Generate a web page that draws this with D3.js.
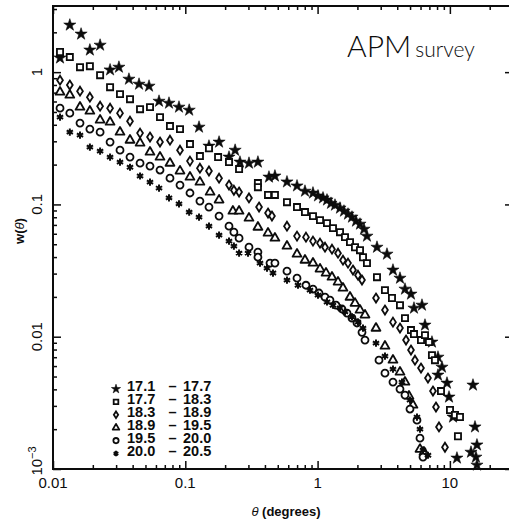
<!DOCTYPE html>
<html><head><meta charset="utf-8">
<script src="https://cdn.jsdelivr.net/npm/d3@7"></script>
<style>body{margin:0;background:#fff}svg{display:block}</style>
</head><body>
<script>
// ---- data ----
const xMajor = [0.01, 0.1, 1, 10];
const xMajorLabels = ["0.01", "0.1", "1", "10"];
const yMajor = [1, 0.1, 0.01, 0.001];
const yMajorLabels = ["1", "0.1", "0.01", "10^-3"];
const rangeLabels = [["17.1","17.7"],["17.7","18.3"],["18.3","18.9"],["18.9","19.5"],["19.5","20.0"],["20.0","20.5"]];
const symbolNames = ["star","square","diamond","triangle","circle","asterisk"];

const s171 = [[0.0113,1.28],[0.0134,2.27],[0.0163,1.94],[0.0190,1.47],[0.0227,1.60],[0.0270,1.04],[0.0315,1.09],[0.0375,0.885],[0.0447,0.811],[0.0532,0.784],[0.0633,0.603],[0.0753,0.583],[0.0896,0.544],[0.107,0.516],[0.127,0.384],[0.151,0.276],[0.180,0.296],[0.214,0.228],[0.238,0.257],[0.259,0.209],[0.303,0.205],[0.354,0.209],[0.429,0.161],[0.476,0.164],[0.587,0.148],[0.699,0.138],[0.803,0.126],[0.923,0.122],[1.007,0.116],[1.099,0.112],[1.178,0.108],[1.263,0.102],[1.354,0.0988],[1.477,0.0938],[1.583,0.0890],[1.698,0.0845],[1.820,0.0802],[1.951,0.0748],[2.092,0.0710],[2.243,0.0650],[2.362,0.0576],[2.812,0.0475],[3.346,0.0421],[3.714,0.0319],[4.196,0.0277],[4.578,0.0229],[5.081,0.0210],[5.353,0.01645],[6.153,0.01732],[6.484,0.01224],[7.321,0.00911],[8.130,0.00701],[8.716,0.00589],[8.130,0.00513],[9.51,0.00446],[9.85,0.00350],[10.56,0.00247],[11.31,0.00121],[14.95,0.00431],[15.48,0.00208],[16.02,0.00152],[14.44,0.00134],[15.74,0.00123],[16.02,0.00107]];
const s177 = [[0.0113,1.42],[0.0134,1.30],[0.0160,1.09],[0.0190,1.11],[0.0227,0.949],[0.0270,0.770],[0.0321,0.682],[0.0382,0.625],[0.0455,0.525],[0.0541,0.544],[0.0644,0.457],[0.0766,0.391],[0.0912,0.371],[0.1085,0.286],[0.129,0.232],[0.151,0.266],[0.177,0.228],[0.214,0.209],[0.255,0.185],[0.354,0.145],[0.354,0.135],[0.422,0.118],[0.476,0.118],[0.587,0.104],[0.699,0.0955],[0.803,0.0875],[0.923,0.0816],[1.043,0.0761],[1.178,0.0722],[1.307,0.0662],[1.477,0.0617],[1.611,0.0566],[1.758,0.0519],[1.918,0.0475],[2.092,0.0451],[2.204,0.0399],[2.362,0.0360],[2.812,0.0282],[3.231,0.0225],[3.650,0.0196],[4.196,0.01732],[4.578,0.01382],[5.081,0.01122],[5.353,0.01047],[6.048,0.00943],[6.484,0.01028],[6.949,0.00911],[7.321,0.00726],[7.714,0.00665],[8.566,0.00388],[10.02,0.00279],[10.93,0.00256],[11.92,0.00247],[11.51,0.00177]];
const s183 = [[0.0113,0.870],[0.0134,0.798],[0.0160,0.718],[0.0190,0.647],[0.0227,0.553],[0.0270,0.534],[0.0321,0.490],[0.0382,0.426],[0.0455,0.346],[0.0541,0.323],[0.0644,0.296],[0.0766,0.306],[0.0912,0.257],[0.1085,0.2125],[0.129,0.188],[0.151,0.179],[0.180,0.158],[0.214,0.140],[0.233,0.128],[0.255,0.124],[0.303,0.112],[0.361,0.0955],[0.422,0.0860],[0.452,0.0816],[0.587,0.0685],[0.699,0.0576],[0.817,0.0566],[0.923,0.0528],[1.043,0.0510],[1.138,0.0475],[1.285,0.0459],[1.427,0.0428],[1.556,0.0379],[1.698,0.0360],[1.852,0.0319],[2.020,0.0292],[2.166,0.0268],[2.764,0.0196],[3.231,0.01589],[3.714,0.01289],[4.196,0.01162],[4.66,0.00943],[5.081,0.00792],[5.447,0.00665],[6.048,0.00579],[6.829,0.00487],[7.450,0.00388],[7.85,0.00294],[8.273,0.00208],[9.184,0.00146]];
const s189 = [[0.0113,0.706],[0.0134,0.670],[0.0160,0.544],[0.0190,0.507],[0.0227,0.434],[0.0270,0.419],[0.0321,0.352],[0.0382,0.306],[0.0455,0.291],[0.0541,0.2485],[0.0644,0.228],[0.0766,0.205],[0.0912,0.179],[0.1085,0.161],[0.129,0.1475],[0.154,0.124],[0.180,0.108],[0.229,0.0890],[0.255,0.0890],[0.303,0.0788],[0.354,0.0673],[0.422,0.0607],[0.476,0.0556],[0.587,0.0484],[0.699,0.0421],[0.803,0.0379],[0.923,0.0360],[1.043,0.0325],[1.158,0.0303],[1.285,0.0282],[1.427,0.0259],[1.556,0.0233],[1.758,0.0199],[1.918,0.0179],[2.092,0.0159],[2.282,0.0146],[2.764,0.0116],[3.231,0.00849],[3.714,0.00665],[4.196,0.00540],[4.578,0.00454],[4.907,0.00356],[5.261,0.00304],[5.943,0.00141],[6.372,0.00134]];
const s195 = [[0.0113,0.534],[0.0134,0.490],[0.0160,0.412],[0.0190,0.371],[0.0227,0.352],[0.0270,0.296],[0.0321,0.257],[0.0382,0.228],[0.0455,0.205],[0.0541,0.195],[0.0644,0.182],[0.0766,0.158],[0.0912,0.140],[0.1085,0.122],[0.129,0.106],[0.151,0.0955],[0.180,0.0816],[0.214,0.0685],[0.233,0.0617],[0.255,0.0556],[0.303,0.0475],[0.354,0.0436],[0.354,0.0399],[0.437,0.0360],[0.476,0.0360],[0.587,0.0313],[0.699,0.0277],[0.817,0.0245],[0.923,0.0229],[1.025,0.0214],[1.138,0.0199],[1.241,0.0189],[1.378,0.0173],[1.529,0.0162],[1.669,0.0151],[1.820,0.0138],[1.986,0.0127],[2.166,0.0108],[2.282,0.00943],[2.912,0.00665],[3.231,0.00530],[3.714,0.00454],[4.196,0.00402],[4.578,0.00362],[4.993,0.00284],[5.640,0.00234],[5.943,0.00171],[6.262,0.00123]];
const s200 = [[0.0113,0.457],[0.0134,0.352],[0.0160,0.334],[0.0190,0.271],[0.0227,0.253],[0.0270,0.228],[0.0321,0.209],[0.0382,0.191],[0.0455,0.164],[0.0541,0.1475],[0.0633,0.133],[0.0753,0.112],[0.0896,0.101],[0.107,0.0875],[0.127,0.0802],[0.151,0.0685],[0.180,0.0586],[0.214,0.0528],[0.233,0.0484],[0.255,0.0428],[0.298,0.0428],[0.367,0.0360],[0.4145,0.0330],[0.460,0.0303],[0.587,0.0268],[0.711,0.0245],[0.876,0.0225],[1.007,0.0206],[1.178,0.0183],[1.307,0.0173],[1.477,0.0165],[1.611,0.0154],[1.820,0.0141],[2.020,0.0129],[2.204,0.0116],[2.764,0.00895],[3.231,0.00713],[3.714,0.00569],[4.345,0.00454],[4.993,0.00332],[5.640,0.00247],[5.943,0.00200],[6.262,0.00139],[6.829,0.00127]];
const allSeries = [s171, s177, s183, s189, s195, s200];

// ---- layout ----
const W = 509, H = 524;
const L = 53, R = 513, T = 6, B = 469;
const ink = "#0c0c0c";

const svg = d3.select("body").append("svg").attr("width", W).attr("height", H)
  .style("font-family", "'Liberation Sans', Arial, sans-serif");

const x = d3.scaleLog().domain([0.01, 30]).range([L, R]);
const y = d3.scaleLog().domain([0.001, 3.1623]).range([B, T]);

const xMinor = x.ticks().filter(v => !xMajor.some(m => Math.abs(m - v) / m < 1e-6));
const yMinor = y.ticks().filter(v => !yMajor.some(m => Math.abs(m - v) / m < 1e-6));

function styleAxis(g) {
  g.select(".domain").remove();
  g.selectAll(".tick line").attr("stroke", ink).attr("stroke-width", 1.5);
  g.selectAll(".tick text").remove();
}
// ticks on all four sides (inward)
svg.append("g").attr("transform", `translate(0,${B})`).call(d3.axisBottom(x).tickValues(xMajor).tickSize(-8)).call(styleAxis);
svg.append("g").attr("transform", `translate(0,${B})`).call(d3.axisBottom(x).tickValues(xMinor).tickSize(-4)).call(styleAxis);
svg.append("g").attr("transform", `translate(0,${T})`).call(d3.axisTop(x).tickValues(xMajor).tickSize(-8)).call(styleAxis);
svg.append("g").attr("transform", `translate(0,${T})`).call(d3.axisTop(x).tickValues(xMinor).tickSize(-4)).call(styleAxis);
svg.append("g").attr("transform", `translate(${L},0)`).call(d3.axisLeft(y).tickValues(yMajor).tickSize(-8)).call(styleAxis);
svg.append("g").attr("transform", `translate(${L},0)`).call(d3.axisLeft(y).tickValues(yMinor).tickSize(-4)).call(styleAxis);
svg.append("g").attr("transform", `translate(${R},0)`).call(d3.axisRight(y).tickValues(yMajor).tickSize(-8)).call(styleAxis);
svg.append("g").attr("transform", `translate(${R},0)`).call(d3.axisRight(y).tickValues(yMinor).tickSize(-4)).call(styleAxis);

// frame
svg.append("rect").attr("x", L).attr("y", T).attr("width", R - L).attr("height", B - T)
  .attr("fill", "none").attr("stroke", ink).attr("stroke-width", 2);

// x tick labels
svg.append("g").selectAll("text").data(xMajor).join("text")
  .attr("x", d => x(d)).attr("y", B + 19).attr("text-anchor", "middle")
  .attr("font-size", 15).attr("fill", ink)
  .text((d, i) => xMajorLabels[i]);

// y tick labels (rotated)
const yl = svg.append("g").selectAll("text").data(yMajor).join("text")
  .attr("transform", (d, i) => `translate(${L - 11},${i === 3 ? B - 8 : y(d)}) rotate(-90)`)
  .attr("text-anchor", "middle").attr("font-size", 15).attr("fill", ink);
yl.each(function (d, i) {
  const t = d3.select(this);
  const lab = yMajorLabels[i];
  if (lab.includes("^")) {
    const [b, e] = lab.split("^");
    t.append("tspan").text(b);
    t.append("tspan").attr("dy", -6).attr("font-size", 11).text(e.replace("-", "\u2212"));
  } else t.text(lab);
});

// axis titles
svg.append("text").attr("x", 286).attr("y", 516).attr("text-anchor", "middle")
  .attr("font-size", 13).attr("font-weight", "bold").attr("fill", ink)
  .html('<tspan font-style="italic" font-weight="normal">θ</tspan> (degrees)');
svg.append("text").attr("transform", `translate(24,231) rotate(-90)`).attr("text-anchor", "middle")
  .attr("font-size", 13).attr("font-weight", "bold").attr("fill", ink)
  .html('w(<tspan font-style="italic" font-weight="normal">θ</tspan>)');

// APM survey
const apm = svg.append("text").attr("x", 347).attr("y", 57).attr("fill", ink)
  .style("font-family", "Lato, 'Open Sans', sans-serif").attr("font-weight", 300);
apm.append("tspan").attr("font-size", 30).text("APM");
apm.append("tspan").attr("font-size", 21).attr("dx", 4).text("survey");

// markers
function drawMarker(g, type, s) {
  s = s || 1;
  const sw = 1.8;
  if (type === "star") {
    g.append("path").attr("d", d3.symbol(d3.symbolStar, 46 * s * s)()).attr("fill", ink)
      .attr("stroke", ink).attr("stroke-width", 0.6).attr("stroke-linejoin", "round");
  } else if (type === "square") {
    g.append("path").attr("d", d3.symbol(d3.symbolSquare, 38 * s * s)()).attr("fill", "#fff").attr("stroke", ink).attr("stroke-width", sw);
  } else if (type === "diamond") {
    const a = 2.9 * s, b = 4.5 * s;
    g.append("path").attr("d", `M0,${-b}L${a},0L0,${b}L${-a},0Z`).attr("fill", "#fff").attr("stroke", ink).attr("stroke-width", sw);
  } else if (type === "triangle") {
    g.append("path").attr("d", d3.symbol(d3.symbolTriangle, 34 * s * s)()).attr("fill", "#fff").attr("stroke", ink).attr("stroke-width", sw).attr("stroke-linejoin", "round");
  } else if (type === "circle") {
    g.append("circle").attr("r", 3.5 * s).attr("fill", "#fff").attr("stroke", ink).attr("stroke-width", sw);
  } else if (type === "asterisk") {
    const r = 3.6 * s, c = r * 0.866, h = r * 0.5;
    g.append("path").attr("d", `M0,${-r}L0,${r}M${c},${-h}L${-c},${h}M${c},${h}L${-c},${-h}`)
      .attr("stroke", ink).attr("stroke-width", 2).attr("fill", "none");
    g.append("circle").attr("r", 1.9 * s).attr("fill", ink);
  }
}

const plot = svg.append("g");
allSeries.forEach((ser, si) => {
  plot.append("g").selectAll("g").data(ser).join("g")
    .attr("transform", d => `translate(${x(d[0])},${y(d[1])})`)
    .each(function () { drawMarker(d3.select(this), symbolNames[si]); });
});

// legend
const lg = svg.append("g");
rangeLabels.forEach((r, i) => {
  const base = 391 + i * 12.9;
  const m = lg.append("g").attr("transform", `translate(116,${base - 2})`);
  drawMarker(m, symbolNames[i], 0.75);
  lg.append("text").attr("x", 127).attr("y", base).attr("font-size", 14.5).attr("font-weight", "bold").attr("fill", ink).text(r[0]);
  lg.append("text").attr("x", 172.5).attr("y", base).attr("text-anchor", "middle").attr("font-size", 14.5).attr("font-weight", "bold").attr("fill", ink).text("\u2013");
  lg.append("text").attr("x", 183).attr("y", base).attr("font-size", 14.5).attr("font-weight", "bold").attr("fill", ink).text(r[1]);
});
</script>
</body></html>
